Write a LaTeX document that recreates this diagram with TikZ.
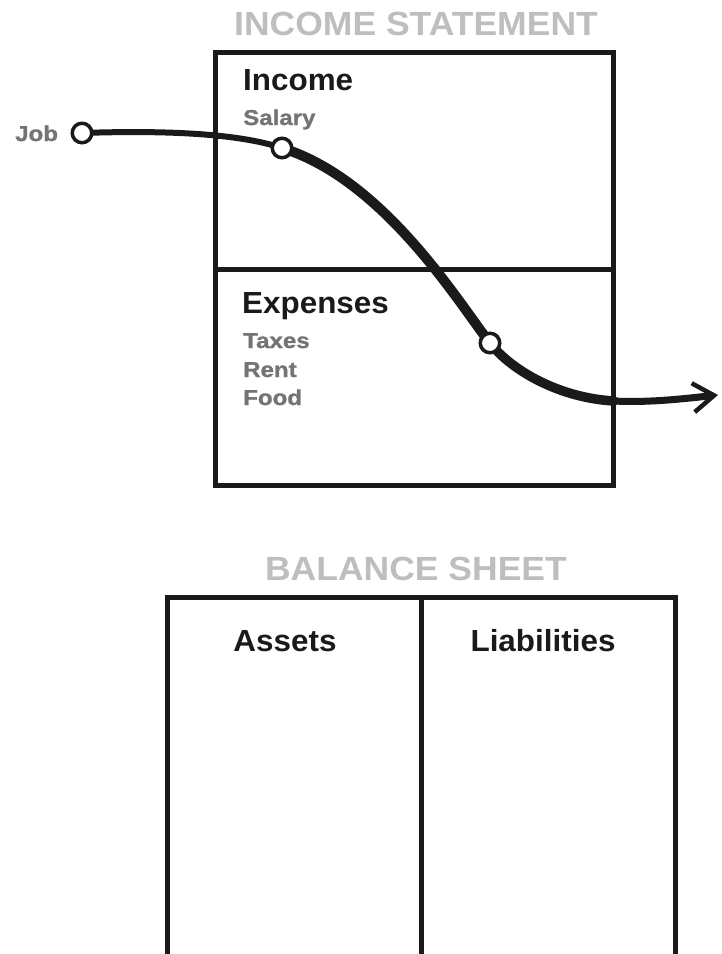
\documentclass[tikz,border=0pt]{standalone}
\usepackage{fontspec}
\setmainfont{Liberation Sans}
\newfontfamily\titlefont[FakeStretch=1.06]{Liberation Sans}
\newfontfamily\headfont[FakeStretch=1.03]{Liberation Sans}
\newfontfamily\itemfont[FakeStretch=1.12, BoldFeatures={FakeBold=1.2}]{Liberation Sans}
\usetikzlibrary{arrows.meta}
\pgfdeclarelayer{background}
\pgfsetlayers{background,main}
\definecolor{titlegray}{HTML}{BCBEC0}
\definecolor{itemgray}{HTML}{747474}
\definecolor{ink}{HTML}{1A1A1A}
\tikzset{
  titletext/.style={inner sep=0pt, anchor=base, text=titlegray, font=\titlefont\bfseries\fontsize{33.5}{36}\selectfont},
  headtext/.style={inner sep=0pt, text=ink, font=\headfont\bfseries\fontsize{30.5}{34}\selectfont},
  itemtext/.style={inner sep=0pt, anchor=base west, text=itemgray, font=\itemfont\bfseries\fontsize{21.5}{24}\selectfont},
  boxline/.style={draw=ink, line width=5pt},
  dot/.style={circle, draw=ink, fill=white, line width=3.5pt, minimum size=19.5pt, inner sep=0pt},
  flow/.style={draw=ink, line cap=round, line join=round}
}
\begin{document}
\begin{tikzpicture}[x=1pt, y=-1pt]
\useasboundingbox (0,0) rectangle (722,954);
% Income statement
\node[titletext] (istitle) at (416,35) {INCOME STATEMENT};
\draw[boxline] (215.5,52.5) rectangle (613.5,485.5);
\draw[boxline] (215.5,269) -- (613.5,269);
\node[headtext, anchor=base west] (income) at (243,90) {Income};
\node[itemtext] (salarytxt) at (243,125) {Salary};
\node[headtext, anchor=base west] (expenses) at (242,313) {Expenses};
\node[itemtext] (taxes) at (243,348) {Taxes};
\node[itemtext] (rent) at (243,377) {Rent};
\node[itemtext] (food) at (243,405) {Food};
\node[itemtext] (jobtxt) at (15,141) {Job};
% circles
\node[dot] (job) at (82,133) {};
\node[dot] (salary) at (282,148) {};
\node[dot] (exp) at (490,343) {};
\coordinate (bend) at (614,401);
\coordinate (tip) at (718,395);
\begin{pgfonlayer}{background}
\draw[flow, line width=6pt] (job.center) .. controls (170,130) and (240,134) .. (salary.center);
\draw[flow, line width=10pt] (salary.center) .. controls (385,180) and (460,305) .. (exp.center);
\draw[flow, line width=9.5pt] (exp.center) .. controls (512,371) and (560,398) .. (bend);
\draw[flow, line width=7pt, -{Straight Barb[length=21pt,width=29pt,line width=4.5pt]}] (bend) .. controls (650,403) and (690,398) .. (tip);
\end{pgfonlayer}
% Balance sheet
\node[titletext] (bstitle) at (416,580) {BALANCE SHEET};
\draw[boxline] (167.5,960) -- (167.5,597.5) -- (675,597.5) -- (675,960);
\draw[boxline] (421.5,597.5) -- (421.5,960);
\node[headtext, anchor=base] (assets) at (285,651) {Assets};
\node[headtext, anchor=base] (liab) at (543,651) {Liabilities};
\end{tikzpicture}
\end{document}
